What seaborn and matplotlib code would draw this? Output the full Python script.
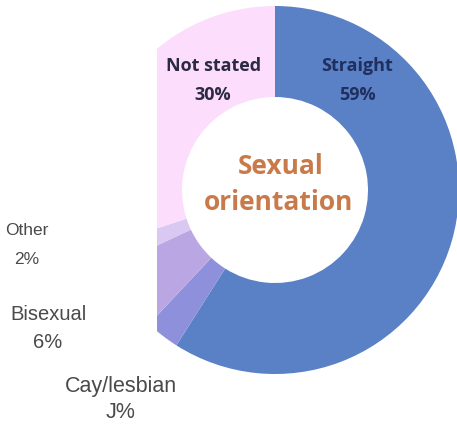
import matplotlib
matplotlib.use("Agg")
import matplotlib.pyplot as plt
import seaborn as sns

# ---- data ----
categories = ["Straight", "Cay/lesbian", "Bisexual", "Other", "Not stated"]
values = [59, 3, 6, 2, 30]
pct_labels = ["59%", "J%", "6%", "2%", "30%"]
colors = ["#5A80C6", "#8E90DC", "#BBA6E4", "#D8C8F2", "#FCDDFB"]
center_lines = ["Sexual", "orientation"]

sns.set_theme(style="white")
plt.rcParams["font.family"] = ["Open Sans", "DejaVu Sans"]

W, H = 457, 427
LEFT = 157  # the ring is cut off at this pixel column
fig = plt.figure(figsize=(W / 100, H / 100), dpi=100)
ax = fig.add_axes([LEFT / W, 0, (W - LEFT) / W, 1])

cx, cy, R, r_in = 275, H - 191, 184, 93
wedges, _ = ax.pie(values, colors=colors, startangle=90, counterclock=False,
                   center=(cx, cy), radius=R, frame=True,
                   wedgeprops=dict(width=R - r_in, linewidth=0))
for w in wedges:
    w.set_clip_on(True)
ax.set_xlim(LEFT, W)
ax.set_ylim(0, H)
ax.set_aspect("auto")
ax.axis("off")


def py(y):
    return H - y


def put(x, y, s, **kw):
    ax.text(x, py(y), s, ha="center", va="center", clip_on=False, **kw)


# labels inside the ring
put(214, 66, categories[4], fontsize=13, fontweight="bold", color="#2B2A45")
put(213, 95, pct_labels[4], fontsize=13, fontweight="bold", color="#2B2A45")
put(357, 66, categories[0], fontsize=13, fontweight="bold", color="#1F2F5E")
put(357, 95, pct_labels[0], fontsize=13, fontweight="bold", color="#1F2F5E")

# centre title
put(281, 166, center_lines[0], fontsize=19, fontweight="bold", color="#C97A4A")
put(279, 203, center_lines[1], fontsize=19, fontweight="bold", color="#C97A4A")

# outside labels
gray = "#4A4A4A"
outside = [(3, 27, 231, 259, 12.5), (2, 48, 315, 343, 14.5), (1, 121, 387, 413, 15.5)]
for idx, x, y1, y2, fs in outside:
    put(x, y1, categories[idx], fontsize=fs, color=gray, family="Liberation Sans")
    put(x, y2, pct_labels[idx], fontsize=fs, color=gray, family="Liberation Sans")

fig.savefig("out.png", dpi=100, facecolor="white")
